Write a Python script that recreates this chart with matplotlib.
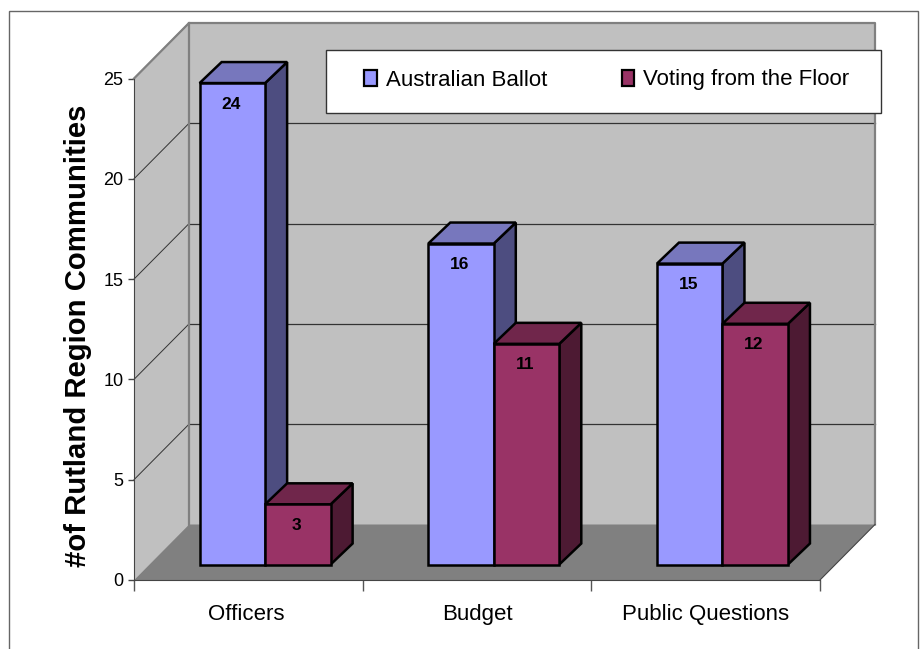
import matplotlib
matplotlib.use('Agg')
import matplotlib.pyplot as plt
from matplotlib.patches import Patch, Polygon, Rectangle

categories = ['Officers', 'Budget', 'Public Questions']
series_names = ['Australian Ballot', 'Voting from the Floor']
australian_ballot = [24, 16, 15]
voting_floor = [3, 11, 12]
y_ticks = [0, 5, 10, 15, 20, 25]

W, H = 923, 649
plt.rcParams['font.family'] = ['Liberation Sans', 'DejaVu Sans']

# front plane of the fake 3d box, in pixels from the top left
left, right, bottom, top = 134, 820, 580, 78.5

fig = plt.figure(figsize=(W / 100, H / 100), dpi=100)
ax = fig.add_axes([left / W, 1 - bottom / H, (right - left) / W, (bottom - top) / H])
ax.set_xlim(0, 3)
ax.set_ylim(0, 25)
ax.patch.set_visible(False)

# pixels to data units
px = 3 / (right - left)
py = 25 / (bottom - top)
depth_x, depth_y = 55 * px, 55.5 * py


def face(points, color, edge='black', lw=1.8, z=3):
    ax.add_patch(Polygon(points, closed=True, facecolor=color, edgecolor=edge, linewidth=lw,
                         joinstyle='miter', clip_on=False, zorder=z))


# walls and floor
face([(0, 0), (0, 25), (depth_x, 25 + depth_y), (depth_x, depth_y)], '#C0C0C0', 'none', 0, 1)
face([(depth_x, depth_y), (depth_x, 25 + depth_y), (3 + depth_x, 25 + depth_y), (3 + depth_x, depth_y)],
     '#C0C0C0', 'none', 0, 1)
face([(0, 0), (depth_x, depth_y), (3 + depth_x, depth_y), (3, 0)], '#808080', 'none', 0, 1.1)

# gridlines on both walls
for t in y_ticks[1:]:
    ax.plot([0, depth_x], [t, t + depth_y], color='#333333', lw=0.7, clip_on=False, zorder=1.5)
    if t < 25:
        ax.plot([depth_x, 3 + depth_x], [t + depth_y] * 2, color='#333333', lw=0.9, clip_on=False, zorder=1.5)

# wall edges
ax.plot([depth_x, depth_x], [depth_y, 25 + depth_y], color='#808080', lw=1.6, clip_on=False, zorder=1.6)
ax.plot([0, depth_x, 3 + depth_x, 3 + depth_x], [25, 25 + depth_y, 25 + depth_y, depth_y],
        color='#808080', lw=1.6, clip_on=False, zorder=1.6)
ax.plot([3, 3 + depth_x], [0, depth_y], color='#444444', lw=0.8, clip_on=False, zorder=1.6)

# bars
bar_w = 65.5 * px
gap_x, gap_y = 16 * px, 15.5 * py
bar_dx, bar_dy = 22 * px, 21 * py
start = 0.217
styles = [('#9999FF', '#7777BD', '#4D4D80'), ('#993366', '#70264B', '#4D1A33')]

for i in range(len(categories)):
    for s, vals in enumerate([australian_ballot, voting_floor]):
        x0 = i + start + gap_x + s * bar_w
        x1 = x0 + bar_w
        y0 = gap_y
        y1 = gap_y + vals[i]
        front, lid, side = styles[s]
        z = 3 + s + i * 2
        face([(x1, y0), (x1, y1), (x1 + bar_dx, y1 + bar_dy), (x1 + bar_dx, y0 + bar_dy)], side, z=z)
        face([(x0, y1), (x0 + bar_dx, y1 + bar_dy), (x1 + bar_dx, y1 + bar_dy), (x1, y1)], lid, z=z)
        face([(x0, y0), (x0, y1), (x1, y1), (x1, y0)], front, z=z)
        ax.text((x0 + x1) / 2 - 1.5 * px, y1 - 1.05, str(vals[i]), ha='center', va='center', fontsize=12.5,
                fontweight='bold', zorder=z + 0.5)

# axes
for name in ['top', 'right']:
    ax.spines[name].set_visible(False)
for name in ['left', 'bottom']:
    ax.spines[name].set_color('#444444')
    ax.spines[name].set_zorder(2)
ax.set_xticks([0, 1, 2, 3])
ax.set_xticklabels([])
ax.set_xticks([0.49, 1.5, 2.5], labels=categories, minor=True, fontsize=16)
ax.tick_params(axis='x', which='major', length=8, width=1, color='#555555', direction='out')
ax.tick_params(axis='x', which='minor', length=0, pad=17)
ax.set_yticks(y_ticks)
ax.set_yticklabels([str(t) for t in y_ticks], fontsize=13)
ax.tick_params(axis='y', length=4, width=1, color='#444444', pad=3.5)

# y title sits in figure space
fig.text(78 / W, 1 - 336 / H, '#of Rutland Region Communities', rotation=90, ha='center', va='center',
         fontweight='bold', fontsize=21.1)

# legend: white box first, then the entries without their own frame
fig.add_artist(Rectangle((326 / W, 1 - 113 / H), 555 / W, 63 / H, transform=fig.transFigure,
                         facecolor='white', edgecolor='#333333', linewidth=1, zorder=10))
handles = [Patch(facecolor=styles[0][0], edgecolor='black', linewidth=1.6),
           Patch(facecolor=styles[1][0], edgecolor='black', linewidth=1.6)]
leg = fig.legend(handles, series_names, ncol=2, loc='center left', bbox_to_anchor=(364 / W, 1 - 80 / H),
                 borderaxespad=0, borderpad=0, frameon=False, fontsize=16, handlelength=0.58,
                 handleheight=0.75, handletextpad=0.4, columnspacing=3.35)
leg.set_zorder(20)

# outer frame, open at the bottom of the picture
fig.add_artist(Rectangle((9 / W, -0.01), 909 / W, 1.01 - 11 / H, transform=fig.transFigure,
                         fill=False, edgecolor='#666666', linewidth=1, zorder=0))

fig.savefig('out.png', dpi=100)
